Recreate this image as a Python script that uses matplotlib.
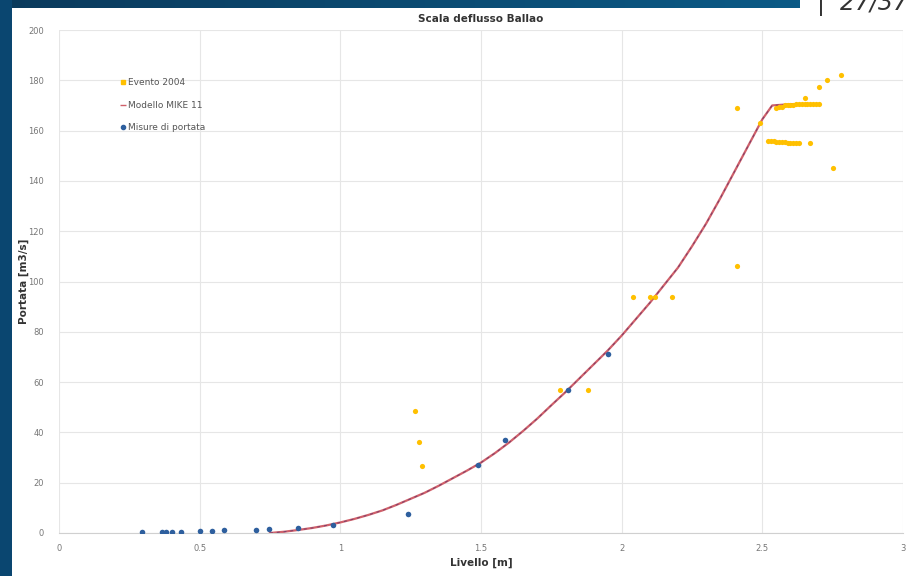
import numpy as np
import matplotlib
matplotlib.use("Agg")
import matplotlib.pyplot as plt
from matplotlib.colors import LinearSegmentedColormap

# ---------------- DATA ----------------
# Evento 2004 (livello [m], portata [m3/s])
evento_x = [1.265, 1.28, 1.29, 1.78, 1.88, 2.04, 2.10, 2.12, 2.18, 2.41, 2.41, 2.49,
            2.55, 2.56, 2.57, 2.58, 2.59, 2.60, 2.61, 2.62, 2.63, 2.64, 2.65, 2.66, 2.67, 2.68, 2.69, 2.70,
            2.52, 2.53, 2.54, 2.55, 2.56, 2.57, 2.58, 2.59, 2.60, 2.61, 2.62, 2.63, 2.67,
            2.65, 2.70, 2.73, 2.78, 2.75]
evento_y = [48.5, 36, 26.5, 57, 57, 94, 94, 94, 94, 106, 169, 163,
            169, 169.5, 169.5, 170, 170, 170, 170, 170.5, 170.5, 170.5, 170.5, 170.5, 170.5, 170.5, 170.5, 170.5,
            156, 156, 156, 155.5, 155.5, 155.5, 155.5, 155, 155, 155, 155, 155, 155,
            173, 177.5, 180, 182, 145]

# Modello MIKE 11
modello_x = [0.75, 0.80, 0.85, 0.90, 0.95, 1.00, 1.05, 1.10, 1.15, 1.20, 1.25, 1.30,
             1.35, 1.40, 1.45, 1.50, 1.55, 1.60, 1.65, 1.70, 1.75, 1.80, 1.85, 1.90,
             1.95, 2.00, 2.05, 2.10, 2.15, 2.20, 2.25, 2.30, 2.35, 2.40, 2.45, 2.50,
             2.535, 2.60, 2.68]
modello_y = [0.0, 0.5, 1.2, 2.0, 3.0, 4.2, 5.6, 7.2, 9.0, 11.2, 13.6, 16.0,
             18.8, 21.8, 24.8, 28.0, 31.8, 36.0, 40.6, 45.5, 50.8, 56.0, 61.5, 67.0,
             72.5, 78.5, 85.0, 91.5, 98.5, 105.5, 114.0, 123.0, 133.0, 143.5, 154.0, 164.5,
             170.0, 170.5, 170.5]

# Misure di portata
misure_x = [0.295, 0.366, 0.38, 0.40, 0.434, 0.50, 0.545, 0.585, 0.70, 0.745, 0.85,
            0.975, 1.24, 1.49, 1.585, 1.81, 1.95]
misure_y = [0.2, 0.2, 0.2, 0.3, 0.5, 0.6, 0.8, 1.0, 1.2, 1.4, 2.0,
            3.0, 7.6, 27.0, 37.0, 57.0, 71.0]

x_ticks = [0, 0.5, 1, 1.5, 2, 2.5, 3]
x_labels = ["0", "0.5", "1", "1.5", "2", "2.5", "3"]
y_ticks = list(range(0, 201, 20))

# ---------------- FIGURE ----------------
fig = plt.figure(figsize=(9.07, 5.76), dpi=100)
fig.patch.set_facecolor("white")

# slide decoration: top band gradient + left strip
band = fig.add_axes([0, 1 - 8 / 576, 800 / 907, 8 / 576])
grad = np.linspace(0, 1, 256).reshape(1, -1)
band_cmap = LinearSegmentedColormap.from_list("band", ["#0b3a5c", "#0a5a86"])
band.imshow(grad, aspect="auto", cmap=band_cmap)
band.axis("off")

strip = fig.add_axes([0, 0, 12 / 907, 1])
strip.set_facecolor("#0a4670")
strip.set_xticks([])
strip.set_yticks([])
for s in strip.spines.values():
    s.set_visible(False)

fig.text(817 / 907, 1 - 4 / 576, "|  27/37", fontsize=17, color="#333333",
         style="italic", ha="left", va="center")

ax = fig.add_axes([59 / 907, (576 - 533) / 576, (903 - 59) / 907, (533 - 30) / 576])
ax.set_facecolor("white")

ax.plot(modello_x, modello_y, color="#d0606a", lw=1.6, zorder=2)
ax.plot(modello_x, modello_y, color="#7a3e6a", lw=0.7, ls=(0, (3, 4)), zorder=3)
ax.scatter(evento_x, evento_y, s=14, color="#ffc000", zorder=4, linewidths=0)
ax.scatter(misure_x, misure_y, s=16, color="#2e5f9e", zorder=5, linewidths=0)

# legend proxies
ax.plot([], [], ls="none", marker="s", ms=3, color="#ffc000", label="Evento 2004")
ax.plot([], [], ls="none", marker="_", ms=4, color="#d0606a", label="Modello MIKE 11")
ax.plot([], [], ls="none", marker="o", ms=3, color="#2e5f9e", label="Misure di portata")
handles, labels = ax.get_legend_handles_labels()
leg = ax.legend(handles[-3:], labels[-3:], loc="upper left", bbox_to_anchor=(0.063, 0.92),
                frameon=False, fontsize=6.5, labelcolor="#555555", handlelength=0.6,
                handletextpad=0.3, labelspacing=1.5)

ax.set_xlim(0, 3)
ax.set_ylim(0, 200)
ax.set_xticks(x_ticks)
ax.set_xticklabels(x_labels)
ax.set_yticks(y_ticks)
ax.tick_params(axis="both", labelsize=6, colors="#777777", length=0)
ax.tick_params(axis="y", pad=11)
ax.tick_params(axis="x", pad=8)
ax.grid(True, color="#e6e6e6", lw=0.8)
ax.set_axisbelow(True)
for name, s in ax.spines.items():
    if name == "bottom":
        s.set_color("#d0d0d0")
    else:
        s.set_visible(False)

ax.set_title("Scala deflusso Ballao", fontsize=7.5, fontweight="bold", color="#333333", pad=6)
ax.set_xlabel("Livello [m]", fontsize=7.5, fontweight="bold", color="#333333", labelpad=3)
ax.set_ylabel("Portata [m3/s]", fontsize=7.5, fontweight="bold", color="#333333")
ax.yaxis.set_label_coords(-0.036, 0.5)

fig.savefig("out.png", dpi=100)
